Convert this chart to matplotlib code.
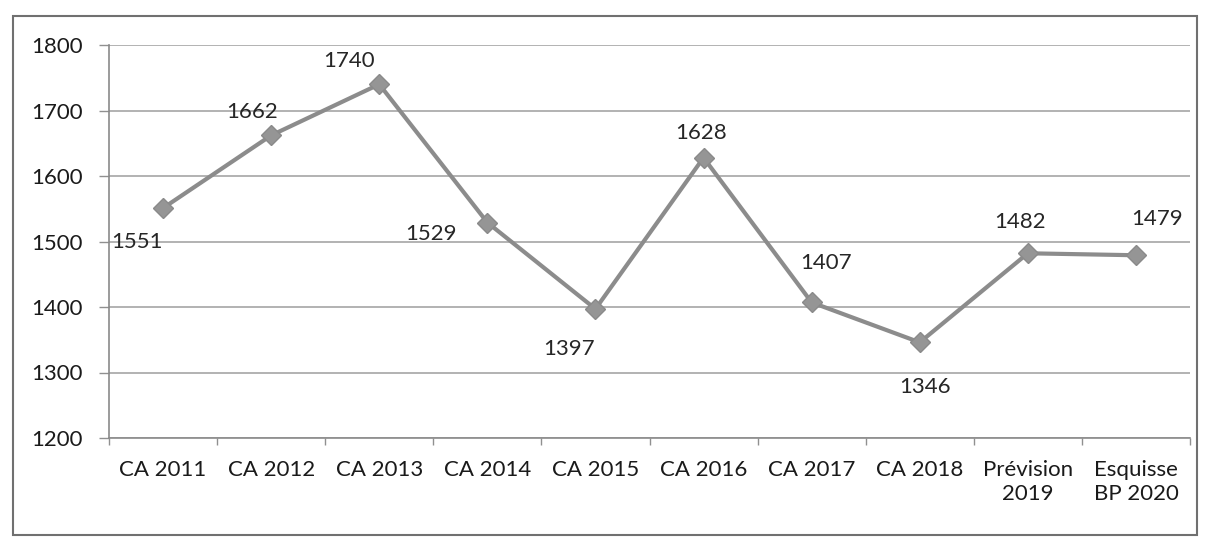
import matplotlib.pyplot as plt
from matplotlib.patches import Rectangle

# series values
categories = ["CA 2011", "CA 2012", "CA 2013", "CA 2014", "CA 2015",
              "CA 2016", "CA 2017", "CA 2018", "Prévision\n2019", "Esquisse\nBP 2020"]
values = [1551, 1662, 1740, 1529, 1397, 1628, 1407, 1346, 1482, 1479]
yticks = [1200, 1300, 1400, 1500, 1600, 1700, 1800]

# label offsets in pixels (dx, dy) relative to each point
label_offsets = [(-26, -34), (-19, 23), (-30, 23), (-56, -11), (-26, -40),
                 (-2, 25), (14, 39), (5, -45), (-8, 31), (21, 36)]

plt.rcParams['font.family'] = ['Lato', 'DejaVu Sans']

fig = plt.figure(figsize=(12.08, 5.37), dpi=100)
ax = fig.add_axes([109 / 1208, 1 - 438 / 537, (1190 - 109) / 1208, (438 - 45) / 537])

x = list(range(len(values)))
line_col = '#8c8c8c'
ax.plot(x, values, color=line_col, lw=3, marker='D', markersize=10,
        markerfacecolor='#959595', markeredgecolor='#8a8a8a', zorder=3)

for xi, v, (dx, dy) in zip(x, values, label_offsets):
    ax.annotate(str(v), (xi, v), xytext=(dx, dy), textcoords='offset pixels',
                ha='center', va='center', fontsize=16, color='#262626')

ax.set_xlim(-0.5, len(values) - 0.5)
ax.set_ylim(1200, 1800)
ax.set_yticks(yticks)
ax.tick_params(axis='y', length=7, width=1, color='#909090', pad=12,
               labelsize=16, labelcolor='#1a1a1a')
ax.yaxis.grid(True, color='#a5a5a5', lw=1.2)
ax.set_axisbelow(True)

# category labels centered, ticks on category boundaries
ax.set_xticks(x)
ax.set_xticklabels(categories, fontsize=16, color='#1a1a1a', linespacing=1.25)
ax.set_xticks([i - 0.5 for i in range(len(values) + 1)], minor=True)
ax.tick_params(axis='x', which='major', length=0, pad=16)
ax.tick_params(axis='x', which='minor', length=5, width=1, color='#909090')

for side in ['top', 'right']:
    ax.spines[side].set_visible(False)
for side in ['left', 'bottom']:
    ax.spines[side].set_color('#8a8a8a')
    ax.spines[side].set_linewidth(1.2)

# outer chart border
fig.patches.append(Rectangle((13 / 1208, 1 - 535 / 537), (1197 - 13) / 1208, (535 - 16) / 537,
                             transform=fig.transFigure, fill=False,
                             edgecolor='#707070', lw=1.5))

fig.savefig('out.png', dpi=100)
